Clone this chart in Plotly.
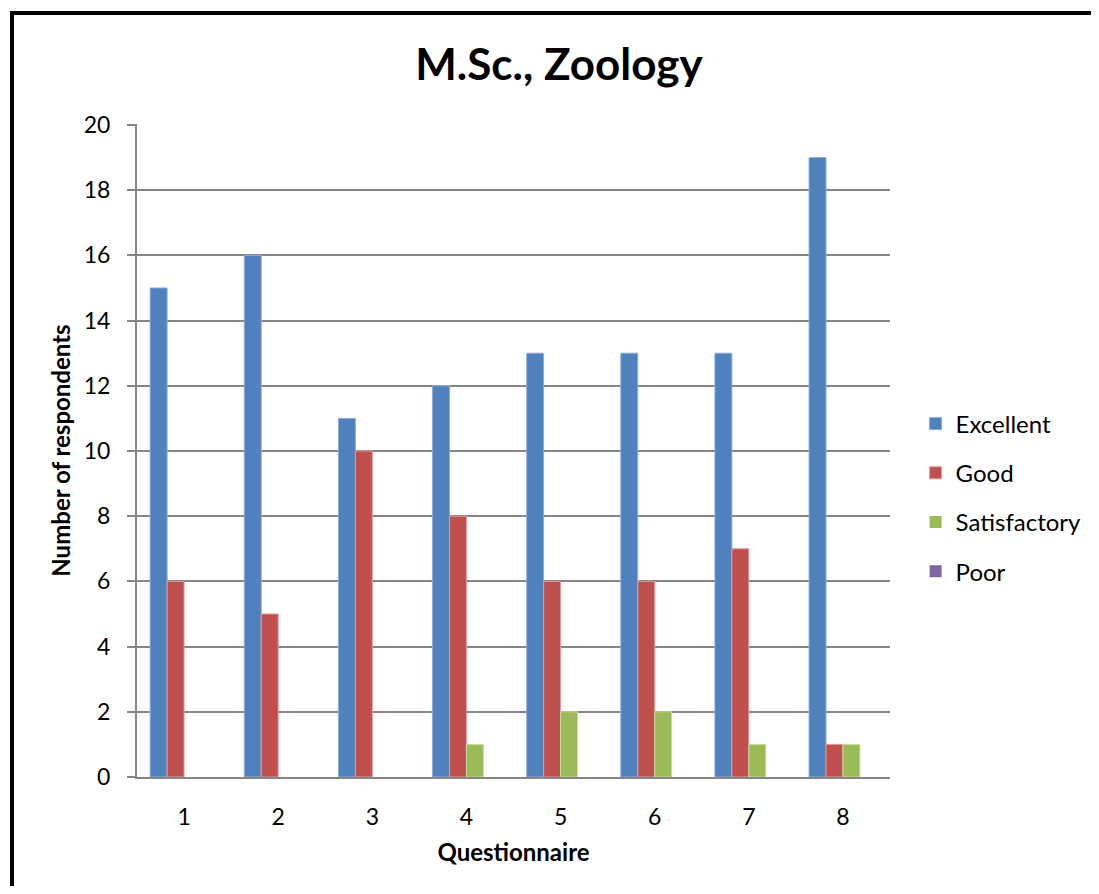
import plotly.graph_objects as go

# data
questions = ["1", "2", "3", "4", "5", "6", "7", "8"]
excellent = [15, 16, 11, 12, 13, 13, 13, 19]
good = [6, 5, 10, 8, 6, 6, 7, 1]
satisfactory = [0, 0, 0, 1, 2, 2, 1, 1]
poor = [0, 0, 0, 0, 0, 0, 0, 0]
y_ticks = [0, 2, 4, 6, 8, 10, 12, 14, 16, 18, 20]

FONT = "Lato, 'Open Sans', sans-serif"
GRID = "#868686"

series = [
    ("Excellent", excellent, "#4F81BD", "#8EAADB"),
    ("Good", good, "#C0504D", "#E39A98"),
    ("Satisfactory", satisfactory, "#9BBB59", "#C8DCA0"),
    ("Poor", poor, "#8064A2", "#B3A2C7"),
]

fig = go.Figure()
for name, vals, color, edge in series:
    fig.add_trace(
        go.Bar(
            x=questions,
            y=vals,
            name=name,
            legendgroup=name,
            # no outline on empty bars, otherwise they show as a thin line
            marker=dict(
                color=color,
                line=dict(color=edge, width=[1 if v else 0 for v in vals]),
            ),
        )
    )

# page body adds 8px on the left/top; height kept small enough to avoid a scrollbar
fig.update_layout(
    width=1091,
    height=878,
    barmode="group",
    bargap=0.28,
    bargroupgap=0,
    paper_bgcolor="white",
    plot_bgcolor="white",
    font=dict(family=FONT, size=24, color="black"),
    margin=dict(l=129, r=209, t=116, b=109, autoexpand=False),
    title=dict(
        text="<b>M.Sc., Zoology</b>",
        x=0.505,
        xanchor="center",
        y=0.935,
        yanchor="middle",
        font=dict(size=44, family=FONT),
    ),
    legend=dict(
        x=1.034,
        xanchor="left",
        y=0.428,
        yanchor="middle",
        tracegroupgap=15,
        font=dict(size=24),
        itemwidth=30,
    ),
    shapes=[
        dict(
            type="rect",
            xref="paper",
            yref="paper",
            x0=-0.166,
            x1=1.6,
            y0=-0.6,
            y1=1.170,
            line=dict(color="black", width=4),
            layer="above",
        )
    ],
)

fig.update_xaxes(
    title=dict(text="<b>Questionnaire</b>", font=dict(size=24), standoff=16),
    showline=True,
    linecolor=GRID,
    linewidth=2,
    showgrid=False,
    ticks="",
    ticklabelstandoff=18,
    tickfont=dict(size=23),
)
fig.update_yaxes(
    title=dict(text="<b>Number of respondents</b>", font=dict(size=24), standoff=6),
    range=[0, 20.03],
    tickvals=y_ticks,
    showline=True,
    linecolor=GRID,
    linewidth=2,
    showgrid=True,
    gridcolor=GRID,
    gridwidth=1.5,
    ticks="outside",
    ticklen=8,
    tickcolor=GRID,
    tickwidth=1.5,
    ticklabelstandoff=12,
    tickfont=dict(size=23),
    zeroline=False,
)

fig.write_html("out.html")
